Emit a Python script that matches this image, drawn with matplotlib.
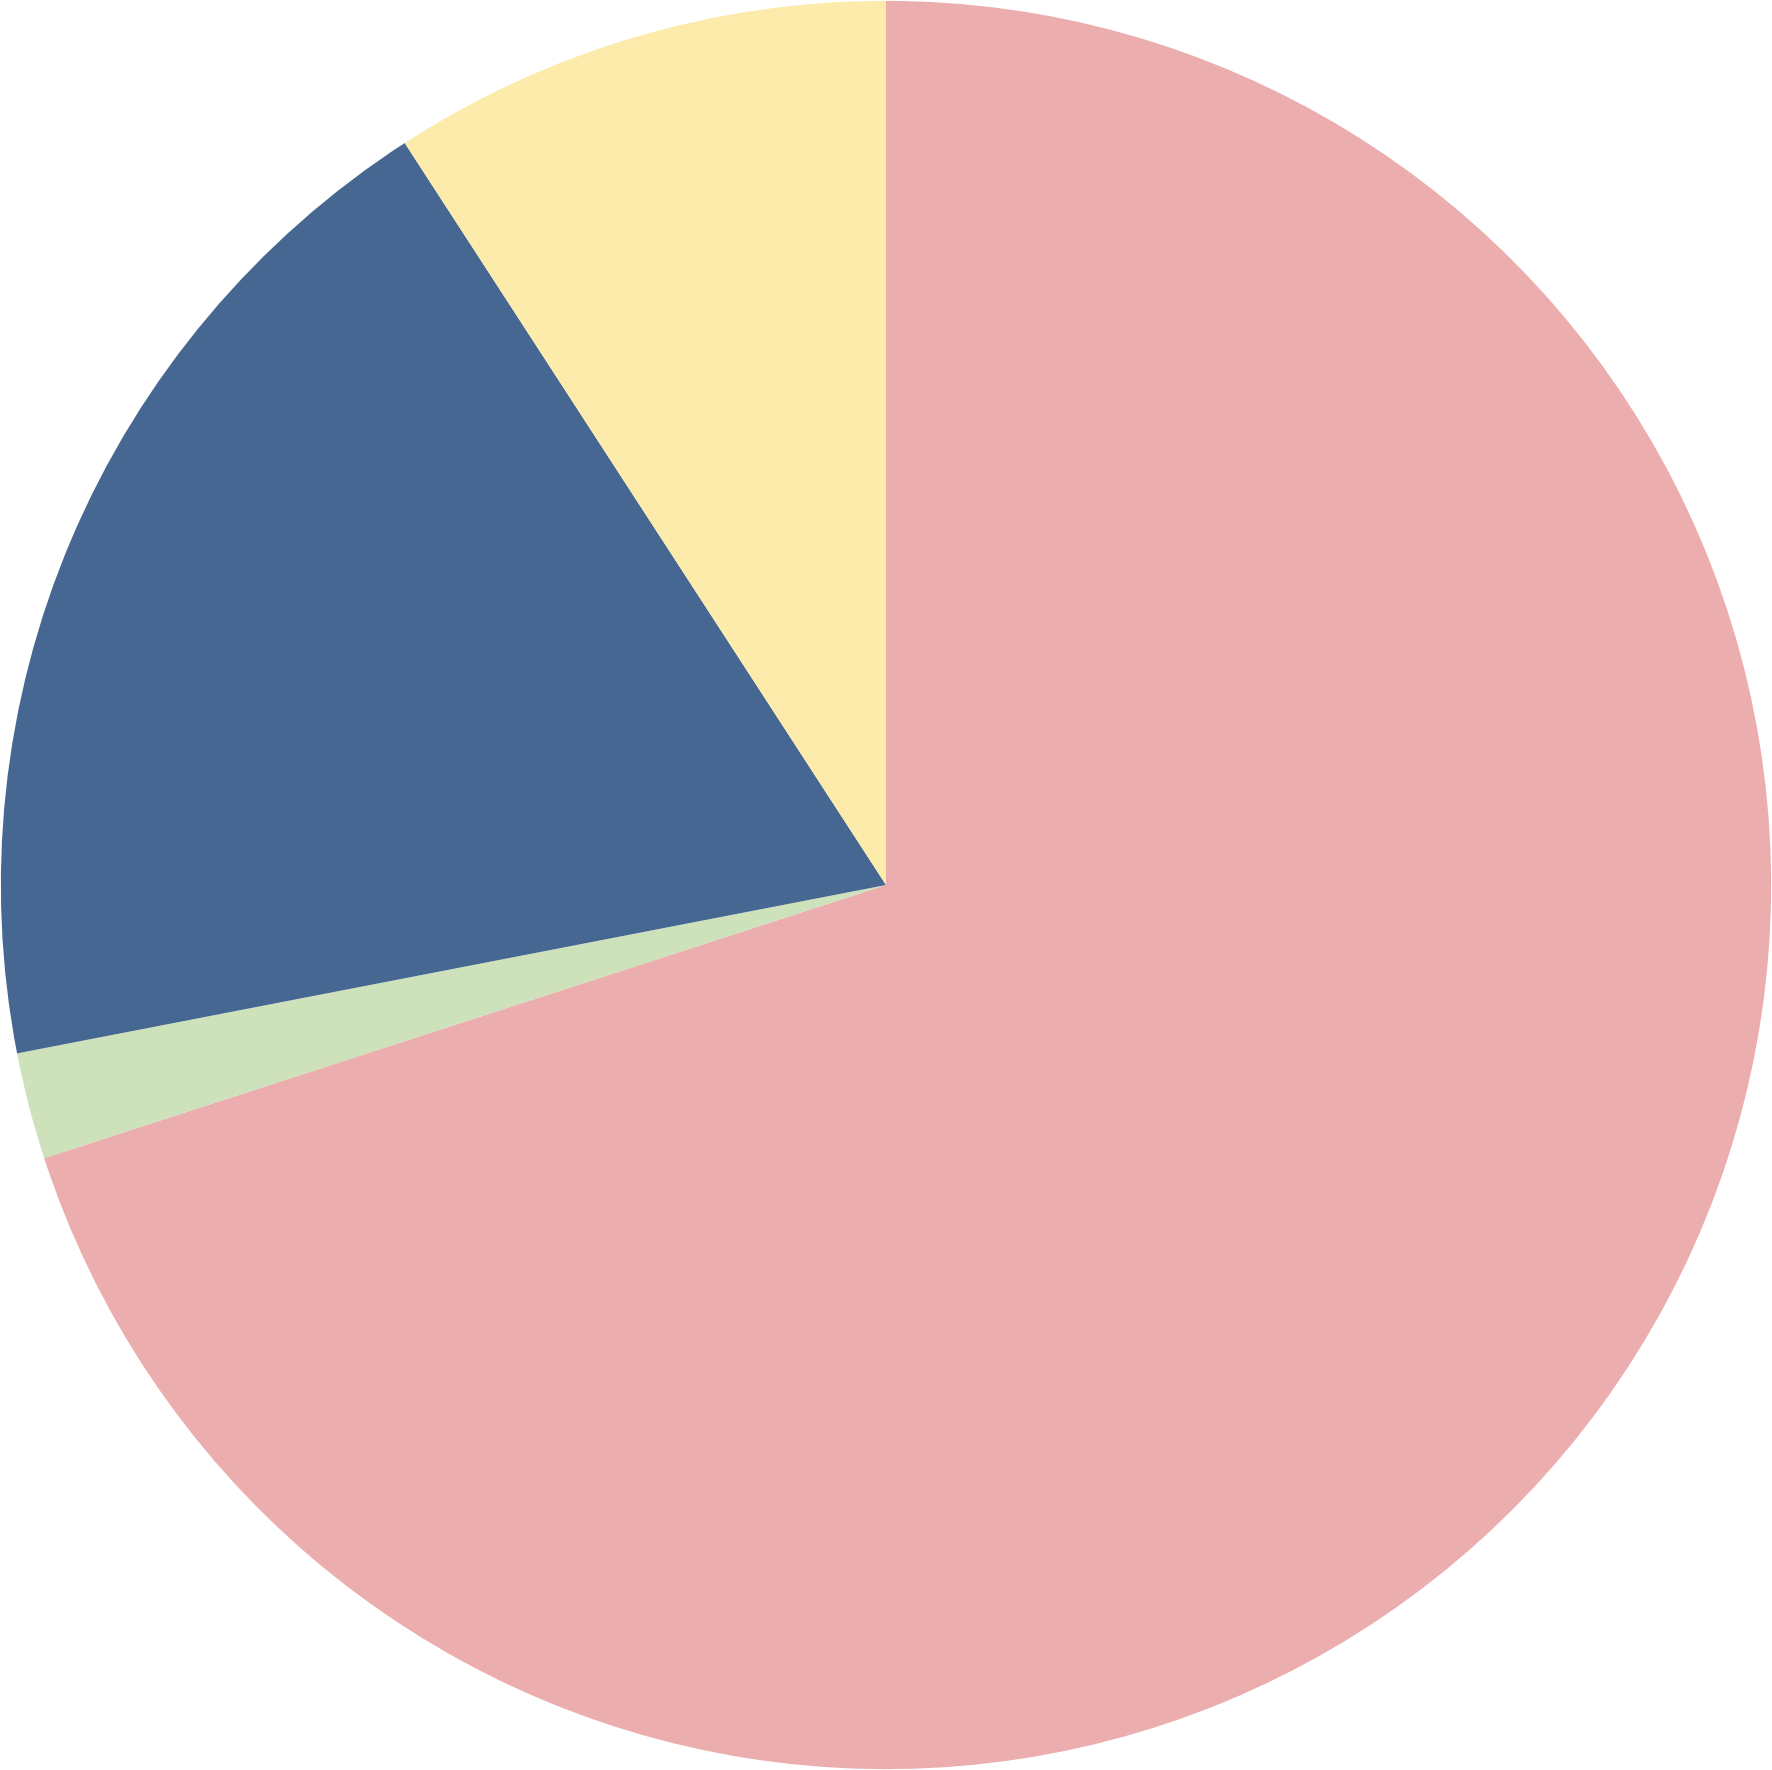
import matplotlib
matplotlib.use("Agg")
import matplotlib.pyplot as plt

categories = ["A", "B", "C", "D"]
values = [70.0, 1.95, 18.9, 9.15]
colors = ["#ecadae", "#cde1bb", "#466791", "#fcebaa"]

fig = plt.figure(figsize=(17.72, 17.70), dpi=100)
ax = fig.add_axes([0, 0, 1, 1])
ax.pie(values, colors=colors, startangle=90, counterclock=False,
       radius=1.0, wedgeprops=dict(linewidth=0, antialiased=True))
ax.set_xlim(-1.001, 1.001)
ax.set_ylim(-1.001, 1.001)
ax.set_aspect("auto")
ax.axis("off")
fig.savefig("out.png", dpi=100, facecolor="white")
